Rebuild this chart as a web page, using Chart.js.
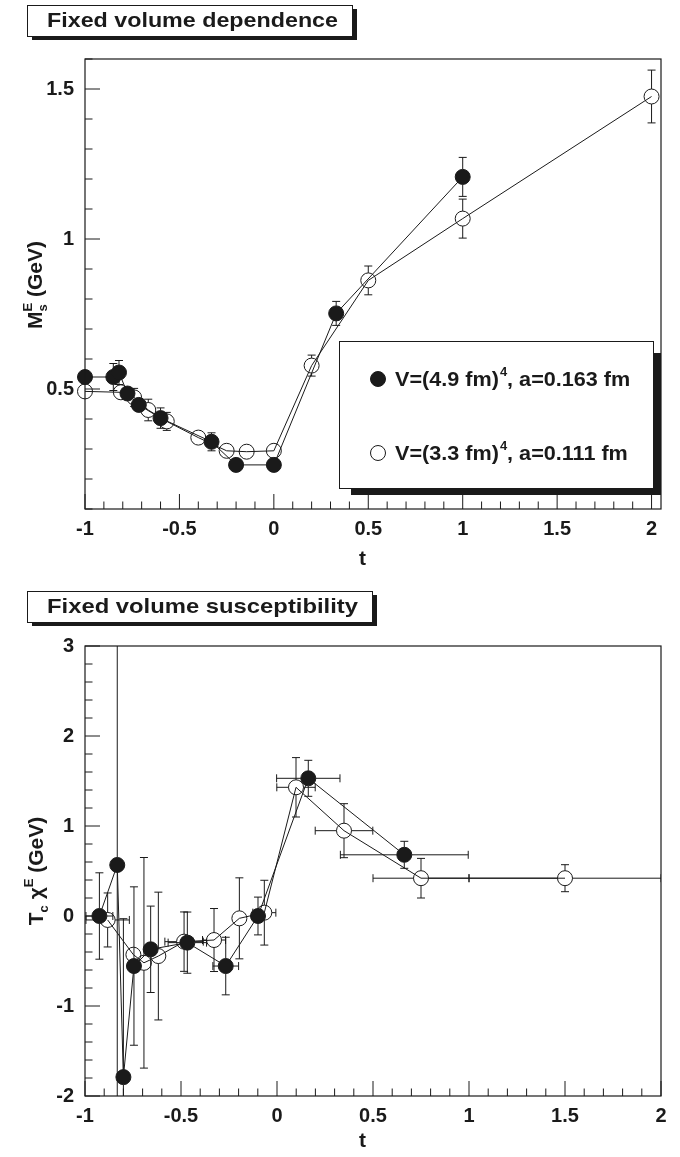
<!DOCTYPE html>
<html>
<head>
<meta charset="utf-8">
<script src="https://cdn.jsdelivr.net/npm/chart.js@4.4.0/dist/chart.umd.min.js"></script>
<style>
  html, body { margin: 0; padding: 0; background: #fff; }
  #wrap { position: relative; width: 680px; height: 1157px; }
  #c1 { position: absolute; left: 0; top: 0; }
  #c2 { position: absolute; left: 0; top: 580px; }
</style>
</head>
<body>
<div id="wrap">
  <canvas id="c1" width="680" height="580"></canvas>
  <canvas id="c2" width="680" height="577"></canvas>
</div>
<script>
const FONT = '"Liberation Sans", Arial, Helvetica, sans-serif';
const INK = '#1a1a1a';

// ---- top panel: fixed volume dependence ----
const depTicksX = [-1, -0.5, 0, 0.5, 1, 1.5, 2];
const depLabelsX = ['-1', '-0.5', '0', '0.5', '1', '1.5', '2'];
const depTicksY = [0.5, 1, 1.5];
const depLabelsY = ['0.5', '1', '1.5'];

// V=(4.9 fm)^4, a=0.163 fm  (filled)
const depBigX   = [-1, -0.85, -0.82, -0.775, -0.715, -0.6, -0.33, -0.2, 0, 0.33, 1];
const depBigY   = [0.54, 0.54, 0.555, 0.485, 0.447, 0.403, 0.324, 0.247, 0.247, 0.752, 1.207];
const depBigErr = [0.02, 0.045, 0.04, 0.02, 0.02, 0.034, 0.03, 0.012, 0.012, 0.04, 0.065];

// V=(3.3 fm)^4, a=0.111 fm  (open)
const depSmallX   = [-1, -0.81, -0.74, -0.665, -0.567, -0.4, -0.25, -0.144, 0, 0.2, 0.5, 1, 2];
const depSmallY   = [0.492, 0.489, 0.472, 0.43, 0.392, 0.338, 0.294, 0.291, 0.294, 0.578, 0.862, 1.068, 1.475];
const depSmallErr = [0.02, 0.02, 0.03, 0.036, 0.03, 0.02, 0.02, 0.02, 0.02, 0.035, 0.048, 0.065, 0.088];

// ---- bottom panel: fixed volume susceptibility ----
const susTicksX = [-1, -0.5, 0, 0.5, 1, 1.5, 2];
const susLabelsX = ['-1', '-0.5', '0', '0.5', '1', '1.5', '2'];
const susTicksY = [-2, -1, 0, 1, 2, 3];
const susLabelsY = ['-2', '-1', '0', '1', '2', '3'];

const susBigX    = [-0.925, -0.832, -0.8, -0.745, -0.658, -0.467, -0.267, -0.099, 0.163, 0.663];
const susBigY    = [0.0, 0.567, -1.79, -0.556, -0.37, -0.296, -0.556, 0.0, 1.53, 0.68];
const susBigYErr = [0.48, 4.0, 1.76, 0.88, 0.48, 0.34, 0.32, 0.21, 0.2, 0.15];
const susBigXErr = [0.07, 0, 0, 0, 0, 0.1, 0.067, 0, 0.165, 0.333];

const susSmallX    = [-0.882, -0.748, -0.693, -0.618, -0.484, -0.328, -0.196, -0.066, 0.099, 0.349, 0.75, 1.5];
const susSmallY    = [-0.044, -0.43, -0.52, -0.445, -0.285, -0.267, -0.026, 0.037, 1.43, 0.948, 0.42, 0.42];
const susSmallYErr = [0.3, 0, 1.17, 0.71, 0.33, 0.35, 0.45, 0.36, 0.33, 0.3, 0.22, 0.15];
const susSmallXErr = [0.113, 0, 0, 0, 0.1, 0.06, 0, 0.06, 0.1, 0.15, 0.25, 0.5];

const R = 7.5; // marker radius

function pts(xs, ys) {
  return xs.map((x, i) => ({ x: x, y: ys[i] }));
}

function line(ctx, x1, y1, x2, y2) {
  ctx.beginPath();
  ctx.moveTo(x1, y1);
  ctx.lineTo(x2, y2);
  ctx.stroke();
}

// error bars, kept outside the marker like ROOT does
function drawErrors(chart, xs, ys, xe, ye) {
  const ctx = chart.ctx, sx = chart.scales.x, sy = chart.scales.y, a = chart.chartArea;
  ctx.save();
  ctx.beginPath();
  ctx.rect(a.left, a.top, a.right - a.left, a.bottom - a.top);
  ctx.clip();
  ctx.strokeStyle = INK;
  ctx.lineWidth = 1;
  for (let i = 0; i < xs.length; i++) {
    const px = sx.getPixelForValue(xs[i]), py = sy.getPixelForValue(ys[i]);
    if (ye && ye[i]) {
      const t = sy.getPixelForValue(ys[i] + ye[i]), b = sy.getPixelForValue(ys[i] - ye[i]);
      if (py - t > R) { line(ctx, px, py - R, px, t); line(ctx, px - 4, t, px + 4, t); }
      if (b - py > R) { line(ctx, px, py + R, px, b); line(ctx, px - 4, b, px + 4, b); }
    }
    if (xe && xe[i]) {
      const l = sx.getPixelForValue(xs[i] - xe[i]), r = sx.getPixelForValue(xs[i] + xe[i]);
      if (px - l > R) { line(ctx, px - R, py, l, py); line(ctx, l, py - 4, l, py + 4); }
      if (r - px > R) { line(ctx, px + R, py, r, py); line(ctx, r, py - 4, r, py + 4); }
    }
  }
  ctx.restore();
}

// text with sub/superscripts; parts: {t, s, dy, keep}
function richText(ctx, parts, x, y) {
  let w = 0;
  parts.forEach(p => {
    ctx.font = 'bold ' + p.s + 'px ' + FONT;
    if (!p.keep) w += ctx.measureText(p.t).width;
  });
  let cx = x - w / 2;
  parts.forEach(p => {
    ctx.font = 'bold ' + p.s + 'px ' + FONT;
    ctx.fillText(p.t, cx, y + (p.dy || 0));
    if (!p.keep) cx += ctx.measureText(p.t).width;
  });
}

// the original face is wider than Liberation Sans, so stretch to its width
function wideText(ctx, text, x, y, size, width) {
  ctx.save();
  ctx.font = 'bold ' + size + 'px ' + FONT;
  const k = width / ctx.measureText(text).width;
  ctx.translate(x, y);
  ctx.scale(k, 1);
  ctx.fillText(text, 0, 0);
  ctx.restore();
}

function titleBox(ctx, text, x, y, w, h, textW) {
  ctx.save();
  ctx.fillStyle = INK;
  ctx.fillRect(x + 5, y + 4, w, h);
  ctx.fillStyle = '#fff';
  ctx.fillRect(x, y, w, h);
  ctx.strokeStyle = INK;
  ctx.lineWidth = 1;
  ctx.strokeRect(x + 0.5, y + 0.5, w, h);
  ctx.fillStyle = INK;
  ctx.textBaseline = 'middle';
  ctx.textAlign = 'left';
  wideText(ctx, text, x + 20, y + h / 2 + 1, 21, textW);
  ctx.restore();
}

function drawFrame(chart, xMinorStep, yMinorStep, xMajorEvery, yMajorEvery) {
  const ctx = chart.ctx, a = chart.chartArea, sx = chart.scales.x, sy = chart.scales.y;
  ctx.save();
  ctx.strokeStyle = INK;
  ctx.lineWidth = 1.2;
  ctx.strokeRect(a.left, a.top, a.right - a.left, a.bottom - a.top);
  ctx.lineWidth = 1;
  for (let k = Math.ceil(sx.min / xMinorStep - 1e-6); k * xMinorStep <= sx.max + 1e-6; k++) {
    const px = sx.getPixelForValue(k * xMinorStep);
    const len = (k % xMajorEvery === 0) ? 15 : 7.5;
    line(ctx, px, a.bottom, px, a.bottom - len);
  }
  for (let k = Math.ceil(sy.min / yMinorStep - 1e-6); k * yMinorStep <= sy.max + 1e-6; k++) {
    const py = sy.getPixelForValue(k * yMinorStep);
    const len = (k % yMajorEvery === 0) ? 15 : 7.5;
    line(ctx, a.left, py, a.left + len, py);
  }
  ctx.restore();
}

function baseOptions(o) {
  return {
    responsive: false,
    animation: false,
    events: [],
    layout: { padding: { left: 0, right: 19, top: o.top, bottom: 0 } },
    plugins: { legend: { display: false }, tooltip: { enabled: false } },
    scales: {
      x: {
        type: 'linear', min: o.xmin, max: o.xmax,
        grid: { display: false, drawTicks: false }, border: { display: false },
        afterBuildTicks: s => { s.ticks = o.ticksX.map(v => ({ value: v })); },
        afterFit: s => { s.height = o.xh; },
        ticks: {
          autoSkip: false, maxRotation: 0, padding: 8, color: INK,
          font: { family: FONT, size: 20, weight: 'bold' },
          callback: (v, i) => o.labelsX[i]
        }
      },
      y: {
        type: 'linear', min: o.ymin, max: o.ymax,
        grid: { display: false, drawTicks: false }, border: { display: false },
        afterBuildTicks: s => { s.ticks = o.ticksY.map(v => ({ value: v })); },
        afterFit: s => { s.width = 85; },
        ticks: {
          autoSkip: false, padding: 11, color: INK,
          font: { family: FONT, size: 20, weight: 'bold' },
          callback: (v, i) => o.labelsY[i]
        }
      }
    }
  };
}

function dataset(xs, ys, filled) {
  return {
    data: pts(xs, ys),
    showLine: true,
    borderColor: INK,
    borderWidth: 1,
    pointRadius: R,
    pointStyle: 'circle',
    pointBackgroundColor: filled ? INK : 'rgba(0,0,0,0)',
    pointBorderColor: INK,
    pointBorderWidth: 1,
    clip: false
  };
}

// ---------- top chart ----------
const topPlugin = {
  id: 'depFrame',
  beforeDatasetsDraw(chart) {
    drawErrors(chart, depBigX, depBigY, null, depBigErr);
    drawErrors(chart, depSmallX, depSmallY, null, depSmallErr);
  },
  afterDraw(chart) {
    const ctx = chart.ctx;
    drawFrame(chart, 0.1, 0.1, 5, 5);
    titleBox(ctx, 'Fixed volume dependence', 27, 5, 325, 31, 291);

    // legend with drop shadow
    ctx.save();
    ctx.fillStyle = INK;
    ctx.fillRect(351, 353, 310, 142);
    ctx.fillStyle = '#fff';
    ctx.fillRect(339, 341, 314, 147);
    ctx.strokeStyle = INK;
    ctx.lineWidth = 1;
    ctx.strokeRect(339.5, 341.5, 314, 147);
    const rows = [[379, true, '4.9', '0.163'], [453, false, '3.3', '0.111']];
    rows.forEach(r => {
      ctx.beginPath();
      ctx.arc(378, r[0], R, 0, Math.PI * 2);
      if (r[1]) { ctx.fillStyle = INK; ctx.fill(); }
      ctx.strokeStyle = INK; ctx.stroke();
      ctx.fillStyle = INK;
      ctx.textAlign = 'left';
      ctx.textBaseline = 'alphabetic';
      const base = r[0] + 7;
      ctx.save();
      ctx.translate(395, base);
      ctx.scale(1.08, 1);
      let x = 0;
      ctx.font = 'bold 20px ' + FONT;
      const s1 = 'V=(' + r[2] + ' fm)';
      ctx.fillText(s1, x, 0); x += ctx.measureText(s1).width + 1;
      ctx.font = 'bold 12px ' + FONT;
      ctx.fillText('4', x, -10); x += ctx.measureText('4').width;
      ctx.font = 'bold 20px ' + FONT;
      ctx.fillText(', a=' + r[3] + ' fm', x, 0);
      ctx.restore();
    });

    // axis titles
    ctx.textAlign = 'left';
    ctx.textBaseline = 'alphabetic';
    ctx.font = 'bold 21px ' + FONT;
    ctx.fillText('t', 359, 565);
    ctx.translate(34, 285);
    ctx.rotate(-Math.PI / 2);
    richText(ctx, [
      { t: 'M', s: 21 },
      { t: 's', s: 13, dy: 5, keep: true },
      { t: 'E', s: 13, dy: -10 },
      { t: ' (GeV)', s: 21 }
    ], 0, 8);
    ctx.restore();
  }
};

new Chart(document.getElementById('c1'), {
  type: 'scatter',
  data: { datasets: [dataset(depBigX, depBigY, true), dataset(depSmallX, depSmallY, false)] },
  options: baseOptions({
    top: 59, xh: 71, xmin: -1, xmax: 2.05, ymin: 0.1, ymax: 1.6,
    ticksX: depTicksX, labelsX: depLabelsX, ticksY: depTicksY, labelsY: depLabelsY
  }),
  plugins: [topPlugin]
});

// ---------- bottom chart ----------
const botPlugin = {
  id: 'susFrame',
  beforeDatasetsDraw(chart) {
    drawErrors(chart, susBigX, susBigY, susBigXErr, susBigYErr);
    drawErrors(chart, susSmallX, susSmallY, susSmallXErr, susSmallYErr);
  },
  afterDraw(chart) {
    const ctx = chart.ctx;
    drawFrame(chart, 0.1, 0.2, 5, 5);
    titleBox(ctx, 'Fixed volume susceptibility', 27, 11, 345, 31, 311);
    ctx.save();
    ctx.fillStyle = INK;
    ctx.textAlign = 'left';
    ctx.textBaseline = 'alphabetic';
    ctx.font = 'bold 21px ' + FONT;
    ctx.fillText('t', 359, 567);
    ctx.translate(35, 291);
    ctx.rotate(-Math.PI / 2);
    richText(ctx, [
      { t: 'T', s: 21 },
      { t: 'c', s: 13, dy: 5 },
      { t: ' \u03c7', s: 21 },
      { t: 'E', s: 13, dy: -10 },
      { t: ' (GeV)', s: 21 }
    ], 0, 8);
    ctx.restore();
  }
};

new Chart(document.getElementById('c2'), {
  type: 'scatter',
  data: { datasets: [dataset(susBigX, susBigY, true), dataset(susSmallX, susSmallY, false)] },
  options: baseOptions({
    top: 66, xh: 61, xmin: -1, xmax: 2, ymin: -2, ymax: 3,
    ticksX: susTicksX, labelsX: susLabelsX, ticksY: susTicksY, labelsY: susLabelsY
  }),
  plugins: [botPlugin]
});
</script>
</body>
</html>
